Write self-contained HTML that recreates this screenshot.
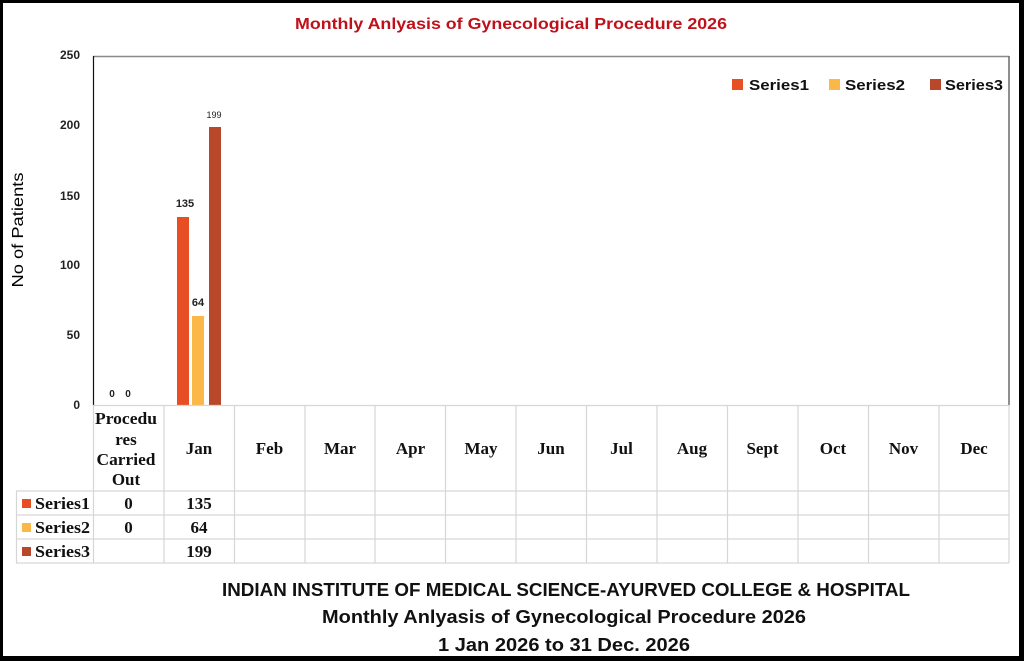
<!DOCTYPE html>
<html><head><meta charset="utf-8"><style>
html,body{margin:0;padding:0;background:#fff;}
svg{display:block;}
</style></head><body>
<svg width="1024" height="661" viewBox="0 0 1024 661" xmlns="http://www.w3.org/2000/svg">
<rect x="0" y="0" width="1024" height="661" fill="#fff"/>
<!-- outer border -->
<rect x="0" y="0" width="1024" height="3" fill="#000"/>
<rect x="0" y="0" width="3" height="661" fill="#000"/>
<rect x="1019" y="0" width="5" height="661" fill="#000"/>
<rect x="0" y="656" width="1024" height="5" fill="#000"/>

<!-- title -->
<text x="511" y="29" text-anchor="middle" font-family="Liberation Sans, sans-serif" font-weight="bold" font-size="16" fill="#C0101A" textLength="432" lengthAdjust="spacingAndGlyphs">Monthly Anlyasis of Gynecological Procedure  2026</text>

<!-- plot frame -->
<line x1="93" y1="56.5" x2="1009" y2="56.5" stroke="#8a8a8a" stroke-width="1.5"/>
<line x1="1009" y1="56" x2="1009" y2="405" stroke="#6a6a6a" stroke-width="1.5"/>
<line x1="93.5" y1="56" x2="93.5" y2="406" stroke="#111" stroke-width="1.2"/>

<!-- y ticks -->
<g font-family="Liberation Sans, sans-serif" font-weight="bold" font-size="12" fill="#222" text-anchor="end">
<text x="80" y="59">250</text>
<text x="80" y="129">200</text>
<text x="80" y="200">150</text>
<text x="80" y="269">100</text>
<text x="80" y="339">50</text>
<text x="80" y="409">0</text>
</g>

<!-- y label -->
<text transform="translate(23,230) rotate(-90)" text-anchor="middle" font-family="Liberation Sans, sans-serif" font-size="16" fill="#000" textLength="115" lengthAdjust="spacingAndGlyphs">No of Patients</text>

<!-- legend -->
<g font-family="Liberation Sans, sans-serif" font-weight="bold" font-size="15" fill="#111">
<rect x="732" y="79" width="11" height="11" fill="#E84E24"/>
<text x="749" y="90" textLength="60" lengthAdjust="spacingAndGlyphs">Series1</text>
<rect x="829" y="79" width="11" height="11" fill="#FBB848"/>
<text x="845" y="90" textLength="60" lengthAdjust="spacingAndGlyphs">Series2</text>
<rect x="930" y="79" width="11" height="11" fill="#B9482A"/>
<text x="945" y="90" textLength="58" lengthAdjust="spacingAndGlyphs">Series3</text>
</g>

<!-- bars -->
<rect x="177" y="217" width="12" height="188" fill="#E84E24"/>
<rect x="192" y="316" width="12" height="89" fill="#FBB848"/>
<rect x="209" y="127" width="12" height="278" fill="#B9482A"/>

<!-- data labels -->
<g font-family="Liberation Sans, sans-serif" fill="#222" text-anchor="middle">
<text x="185" y="207" font-weight="bold" font-size="11">135</text>
<text x="198" y="306" font-weight="bold" font-size="11">64</text>
<text x="214" y="118" font-size="9">199</text>
<text x="112" y="397" font-weight="bold" font-size="10">0</text>
<text x="128" y="397" font-weight="bold" font-size="10">0</text>
</g>

<!-- data table grid -->
<g stroke="#d6d6d6" stroke-width="1.2" fill="none">
<line x1="93" y1="405.5" x2="1009" y2="405.5"/>
<line x1="16" y1="491" x2="1009" y2="491"/>
<line x1="16" y1="515" x2="1009" y2="515"/>
<line x1="16" y1="539" x2="1009" y2="539"/>
<line x1="16" y1="563" x2="1009" y2="563"/>
<line x1="16.5" y1="491" x2="16.5" y2="563"/>
<line x1="93.5" y1="405" x2="93.5" y2="563"/>
<line x1="164" y1="405" x2="164" y2="563"/>
<line x1="234.5" y1="405" x2="234.5" y2="563"/>
<line x1="305" y1="405" x2="305" y2="563"/>
<line x1="375" y1="405" x2="375" y2="563"/>
<line x1="445.5" y1="405" x2="445.5" y2="563"/>
<line x1="516" y1="405" x2="516" y2="563"/>
<line x1="586.5" y1="405" x2="586.5" y2="563"/>
<line x1="657" y1="405" x2="657" y2="563"/>
<line x1="727.5" y1="405" x2="727.5" y2="563"/>
<line x1="798" y1="405" x2="798" y2="563"/>
<line x1="868.5" y1="405" x2="868.5" y2="563"/>
<line x1="939" y1="405" x2="939" y2="563"/>
<line x1="1009" y1="405" x2="1009" y2="563"/>
</g>

<g font-family="Liberation Serif, serif" font-weight="bold" font-size="17" fill="#111" text-anchor="middle">
<text x="126" y="424" textLength="62" lengthAdjust="spacingAndGlyphs">Procedu</text>
<text x="126" y="445">res</text>
<text x="126" y="465" textLength="59" lengthAdjust="spacingAndGlyphs">Carried</text>
<text x="126" y="485">Out</text>
<text x="199" y="454">Jan</text>
<text x="269.5" y="454">Feb</text>
<text x="340" y="454">Mar</text>
<text x="410.5" y="454">Apr</text>
<text x="481" y="454">May</text>
<text x="551" y="454">Jun</text>
<text x="621.5" y="454">Jul</text>
<text x="692" y="454">Aug</text>
<text x="762.5" y="454">Sept</text>
<text x="833" y="454">Oct</text>
<text x="903.5" y="454">Nov</text>
<text x="974" y="454">Dec</text>

<text x="128.5" y="509">0</text>
<text x="199" y="509">135</text>
<text x="128.5" y="533">0</text>
<text x="199" y="533">64</text>
<text x="199" y="557">199</text>
</g>

<g font-family="Liberation Serif, serif" font-weight="bold" font-size="17" fill="#111">
<rect x="22" y="499" width="9" height="9" fill="#E84E24"/>
<text x="35" y="509" textLength="55" lengthAdjust="spacingAndGlyphs">Series1</text>
<rect x="22" y="523" width="9" height="9" fill="#FBB848"/>
<text x="35" y="533" textLength="55" lengthAdjust="spacingAndGlyphs">Series2</text>
<rect x="22" y="547" width="9" height="9" fill="#B9482A"/>
<text x="35" y="557" textLength="55" lengthAdjust="spacingAndGlyphs">Series3</text>
</g>

<!-- bottom titles -->
<g font-family="Liberation Sans, sans-serif" font-weight="bold" font-size="18" fill="#111" text-anchor="middle">
<text x="566" y="596" textLength="688" lengthAdjust="spacingAndGlyphs">INDIAN INSTITUTE OF MEDICAL SCIENCE-AYURVED COLLEGE &amp; HOSPITAL</text>
<text x="564" y="623" textLength="484" lengthAdjust="spacingAndGlyphs">Monthly Anlyasis of Gynecological Procedure  2026</text>
<text x="564" y="651" textLength="252" lengthAdjust="spacingAndGlyphs">1 Jan 2026 to 31 Dec. 2026</text>
</g>
</svg>
</body></html>
